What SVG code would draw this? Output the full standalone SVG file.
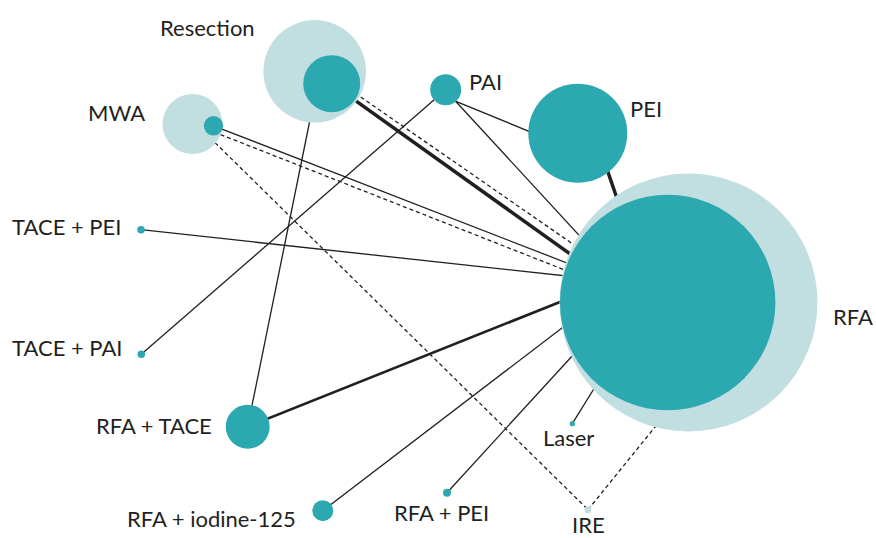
<svg xmlns="http://www.w3.org/2000/svg" width="876" height="538" viewBox="0 0 876 538">
<style>
.e{stroke:#231f20;stroke-width:1.3;fill:none}
.t{stroke:#231f20;stroke-width:3.5;fill:none}
.m{stroke:#231f20;stroke-width:2.6;fill:none}
.d{stroke:#231f20;stroke-width:1.3;fill:none;stroke-dasharray:4 3}
.lt{fill:#c1dfe1}
.dk{fill:#2ca8b0}
text{font-family:Lato,"Liberation Sans",sans-serif;font-size:22px;fill:#231f20}
</style>
<rect width="876" height="538" fill="#fff"/>
<g id="connectors">
<line class="t" x1="331.7" y1="83.7" x2="580" y2="261"/>
<line class="d" x1="355" y1="93" x2="580" y2="249"/>
<line class="e" x1="313" y1="105" x2="247.7" y2="426.7"/>
<line class="e" x1="213.5" y1="125.8" x2="585" y2="270"/>
<line class="d" x1="214" y1="132" x2="580" y2="276"/>
<line class="d" x1="205" y1="132.8" x2="588" y2="509.7"/>
<line class="e" x1="448" y1="98.1" x2="540" y2="135.8"/>
<line class="e" x1="448" y1="93" x2="600" y2="258"/>
<line class="e" x1="445.7" y1="89.8" x2="141.3" y2="354.3"/>
<line class="t" x1="598" y1="143" x2="622" y2="213"/>
<line class="e" x1="141" y1="229.7" x2="585" y2="278"/>
<line class="m" x1="247.7" y1="426.7" x2="580" y2="294"/>
<line class="e" x1="322.8" y1="510.7" x2="575" y2="318"/>
<line class="e" x1="447" y1="492.7" x2="585" y2="342"/>
<line class="e" x1="572.3" y1="423.7" x2="600" y2="379"/>
<line class="d" x1="588" y1="509.7" x2="668" y2="411"/>
</g>
<g id="node-rfa"><circle class="lt" cx="688.5" cy="302.5" r="129"/><circle class="dk" cx="667.7" cy="302.5" r="107.7"/><text x="833" y="325">RFA</text></g>
<g id="node-resection"><circle class="lt" cx="314.7" cy="71.3" r="51.3"/><circle class="dk" cx="331.7" cy="83.7" r="28.5"/><text x="160" y="36">Resection</text></g>
<g id="node-mwa"><circle class="lt" cx="192.5" cy="124" r="30"/><circle class="dk" cx="213.5" cy="125.8" r="9.7"/><text x="88" y="121">MWA</text></g>
<g id="node-pai"><circle class="dk" cx="445.7" cy="89.8" r="15.5"/><text x="469" y="90">PAI</text></g>
<g id="node-pei"><circle class="dk" cx="577.8" cy="133.3" r="49.5"/><text x="630" y="117">PEI</text></g>
<g id="node-tace-pei"><circle class="dk" cx="141" cy="229.7" r="3.8"/><text x="12" y="235">TACE + PEI</text></g>
<g id="node-tace-pai"><circle class="dk" cx="141.3" cy="354.3" r="3.8"/><text x="12" y="356">TACE + PAI</text></g>
<g id="node-rfa-tace"><circle class="dk" cx="247.7" cy="426.7" r="22"/><text x="96" y="434">RFA + TACE</text></g>
<g id="node-rfa-iodine"><circle class="dk" cx="322.8" cy="510.7" r="10.5"/><text x="127" y="527">RFA + iodine-125</text></g>
<g id="node-rfa-pei"><circle class="dk" cx="447" cy="492.7" r="4"/><text x="394" y="521">RFA + PEI</text></g>
<g id="node-laser"><circle class="dk" cx="572.3" cy="423.7" r="2.6"/><text x="543" y="446">Laser</text></g>
<g id="node-ire"><circle class="lt" cx="588" cy="509.7" r="3.4"/><text x="572" y="533">IRE</text></g>
</svg>
